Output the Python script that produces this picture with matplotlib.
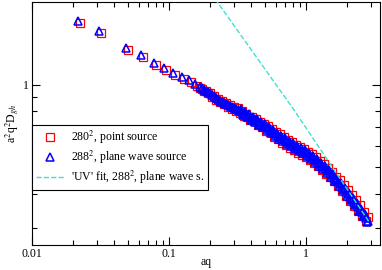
import matplotlib
matplotlib.use('Agg')
import matplotlib.pyplot as plt
from matplotlib.ticker import NullFormatter, FixedLocator, FixedFormatter

plt.rcParams['font.family'] = ['Liberation Serif', 'DejaVu Serif']
plt.rcParams['mathtext.fontset'] = 'stix'

# 288^2, plane wave source (blue triangles)
aq_pw = [0.0217, 0.0308, 0.0486, 0.0625, 0.0777, 0.0919, 0.107, 0.1245, 0.140, 0.155,
         0.168, 0.174, 0.180, 0.186, 0.193, 0.199, 0.206, 0.213, 0.220, 0.228,
         0.236, 0.244, 0.252, 0.261, 0.270, 0.279, 0.288, 0.298, 0.309, 0.319,
         0.330, 0.341, 0.353, 0.365, 0.378, 0.391, 0.404, 0.418, 0.432, 0.447,
         0.462, 0.478, 0.494, 0.511, 0.529, 0.547, 0.566, 0.585, 0.605, 0.626,
         0.647, 0.669, 0.692, 0.716, 0.741, 0.766, 0.792, 0.819, 0.847, 0.876,
         0.906, 0.937, 0.969, 1.000, 1.037, 1.072, 1.109, 1.147, 1.186, 1.227,
         1.269, 1.312, 1.357, 1.404, 1.452, 1.502, 1.553, 1.606, 1.661, 1.718,
         1.776, 1.837, 1.900, 1.965, 2.032, 2.102, 2.174, 2.248, 2.325, 2.405,
         2.487, 2.572, 2.660, 2.751, 2.845,
         0.336, 0.347, 0.359, 0.371, 0.384, 0.398, 0.411, 0.425, 0.439, 0.455,
         0.470, 0.486, 0.502, 0.520, 0.538, 0.556, 0.576, 0.595, 0.615, 0.637,
         0.658, 0.680, 0.704, 0.728, 0.754, 0.779, 0.805, 0.833, 0.861, 0.891,
         0.921, 0.953, 0.985, 1.017, 1.055, 1.090, 1.128, 1.167, 1.206, 1.248,
         1.291, 1.334, 1.380, 1.428, 1.477, 1.528, 1.579, 1.633, 1.689, 1.747,
         1.806, 1.868, 1.932, 1.998, 2.067, 2.138, 2.211, 2.286, 2.365, 2.446,
         2.529, 2.616, 2.705, 2.797]
D_pw = [1.706, 1.569, 1.362, 1.284, 1.201, 1.152, 1.105, 1.069, 1.043, 1.008,
        0.983, 0.971, 0.959, 0.951, 0.943, 0.931, 0.920, 0.908, 0.897, 0.886,
        0.875, 0.868, 0.861, 0.853, 0.846, 0.839, 0.832, 0.825, 0.819, 0.812,
        0.805, 0.795, 0.785, 0.778, 0.772, 0.762, 0.753, 0.747, 0.741, 0.731,
        0.722, 0.716, 0.710, 0.701, 0.693, 0.684, 0.676, 0.667, 0.659, 0.651,
        0.643, 0.637, 0.632, 0.624, 0.617, 0.611, 0.606, 0.598, 0.591, 0.586,
        0.581, 0.576, 0.572, 0.565, 0.558, 0.551, 0.544, 0.537, 0.530, 0.521,
        0.513, 0.506, 0.500, 0.492, 0.484, 0.476, 0.468, 0.459, 0.449, 0.442,
        0.434, 0.426, 0.417, 0.408, 0.399, 0.391, 0.383, 0.375, 0.367, 0.358,
        0.350, 0.343, 0.335, 0.327, 0.319,
        0.816, 0.774, 0.797, 0.760, 0.782, 0.742, 0.765, 0.729, 0.751, 0.712,
        0.733, 0.699, 0.720, 0.683, 0.702, 0.666, 0.685, 0.650, 0.668, 0.634,
        0.653, 0.622, 0.641, 0.608, 0.626, 0.596, 0.614, 0.583, 0.600, 0.572,
        0.590, 0.563, 0.580, 0.550, 0.566, 0.537, 0.551, 0.523, 0.536, 0.507,
        0.520, 0.493, 0.506, 0.478, 0.490, 0.463, 0.473, 0.445, 0.454, 0.429,
        0.439, 0.413, 0.421, 0.395, 0.403, 0.379, 0.387, 0.364, 0.370, 0.347,
        0.353, 0.332, 0.338, 0.317]

# 280^2, point source (red squares)
aq_ps = [0.0223, 0.0317, 0.0500, 0.0643, 0.0800, 0.0946, 0.110, 0.128, 0.144, 0.160,
         0.168, 0.174, 0.180, 0.186, 0.193, 0.199, 0.206, 0.213, 0.220, 0.228,
         0.236, 0.244, 0.252, 0.261, 0.270, 0.279, 0.288, 0.298, 0.309, 0.319,
         0.330, 0.341, 0.353, 0.365, 0.378, 0.391, 0.404, 0.418, 0.432, 0.447,
         0.462, 0.478, 0.494, 0.511, 0.529, 0.547, 0.566, 0.585, 0.605, 0.626,
         0.647, 0.669, 0.692, 0.716, 0.741, 0.766, 0.792, 0.819, 0.847, 0.876,
         0.906, 0.937, 0.969, 1.000, 1.037, 1.072, 1.109, 1.147, 1.186, 1.227,
         1.269, 1.312, 1.357, 1.404, 1.452, 1.502, 1.553, 1.606, 1.661, 1.718,
         1.776, 1.837, 1.900, 1.965, 2.032, 2.102, 2.174, 2.248, 2.325, 2.405,
         2.487, 2.572, 2.660, 2.751, 2.845]
D_ps = [1.675, 1.540, 1.335, 1.260, 1.180, 1.130, 1.085, 1.050, 1.025, 0.990,
        0.975, 0.965, 0.948, 0.945, 0.930, 0.935, 0.905, 0.912, 0.880, 0.890,
        0.862, 0.872, 0.848, 0.858, 0.832, 0.845, 0.818, 0.830, 0.805, 0.820,
        0.790, 0.800, 0.770, 0.785, 0.765, 0.745, 0.760, 0.735, 0.750, 0.715,
        0.730, 0.700, 0.722, 0.680, 0.705, 0.670, 0.690, 0.645, 0.672, 0.635,
        0.660, 0.615, 0.645, 0.605, 0.630, 0.590, 0.620, 0.578, 0.603, 0.565,
        0.595, 0.555, 0.585, 0.545, 0.570, 0.530, 0.560, 0.520, 0.545, 0.505,
        0.528, 0.490, 0.515, 0.475, 0.498, 0.462, 0.480, 0.445, 0.462, 0.428,
        0.450, 0.410, 0.430, 0.395, 0.415, 0.378, 0.398, 0.362, 0.380, 0.347,
        0.365, 0.333, 0.345, 0.318, 0.330]

# 'UV' fit
aq_fit = [0.183, 0.228, 0.804, 2.93]
D_fit = [2.31, 1.982, 0.819, 0.3135]

fig = plt.figure(figsize=(3.82, 2.70), dpi=100)
ax = fig.add_axes([0.0838, 0.0926, 0.911, 0.900])

ax.plot(aq_ps, D_ps, 's', ls='none', mfc='none', mec='red', ms=5.5, mew=0.9,
        label='280$^2$, point source', zorder=2)
ax.plot(aq_pw, D_pw, '^', ls='none', mfc='none', mec='blue', ms=5.5, mew=1.1,
        label='288$^2$, plane wave source', zorder=3)
ax.plot(aq_fit, D_fit, '--', color='turquoise', lw=1,
        label="'UV' fit, 288$^2$, plane wave s.", zorder=4)

ax.set_xscale('log')
ax.set_yscale('log')
ax.set_xlim(0.01, 3.47)
ax.set_ylim(0.261, 2.0)

ax.set_xticks([0.01, 0.1, 1])
ax.set_xticklabels(['0.01', '0.1', '1'])
ax.xaxis.set_minor_formatter(NullFormatter())
ax.yaxis.set_major_locator(FixedLocator([1]))
ax.yaxis.set_major_formatter(FixedFormatter(['1']))
ax.yaxis.set_minor_locator(FixedLocator([0.3, 0.4, 0.5, 0.6, 0.7, 0.8, 0.9]))
ax.yaxis.set_minor_formatter(NullFormatter())

ax.tick_params(which='both', direction='in', top=True, right=True, labelsize=8.5,
               width=0.8, pad=2.5)
ax.tick_params(which='major', length=6)
ax.tick_params(which='minor', length=3.5)
for s in ax.spines.values():
    s.set_linewidth(0.8)

ax.set_xlabel('aq', fontsize=8.5)
ax.xaxis.set_label_coords(0.5, -0.045)
ax.set_ylabel('a$^2$q$^2$D$_{gh}$', fontsize=8.5)
ax.yaxis.set_label_coords(-0.03, 0.5)

leg = ax.legend(loc='upper left', bbox_to_anchor=(0, 0.494), borderaxespad=0,
                fontsize=8.5, fancybox=False, edgecolor='black', framealpha=1,
                handlelength=2.4, handletextpad=0.6, labelspacing=0.25,
                borderpad=0.3)
leg.get_frame().set_linewidth(0.8)

fig.savefig('out.png', dpi=100)
